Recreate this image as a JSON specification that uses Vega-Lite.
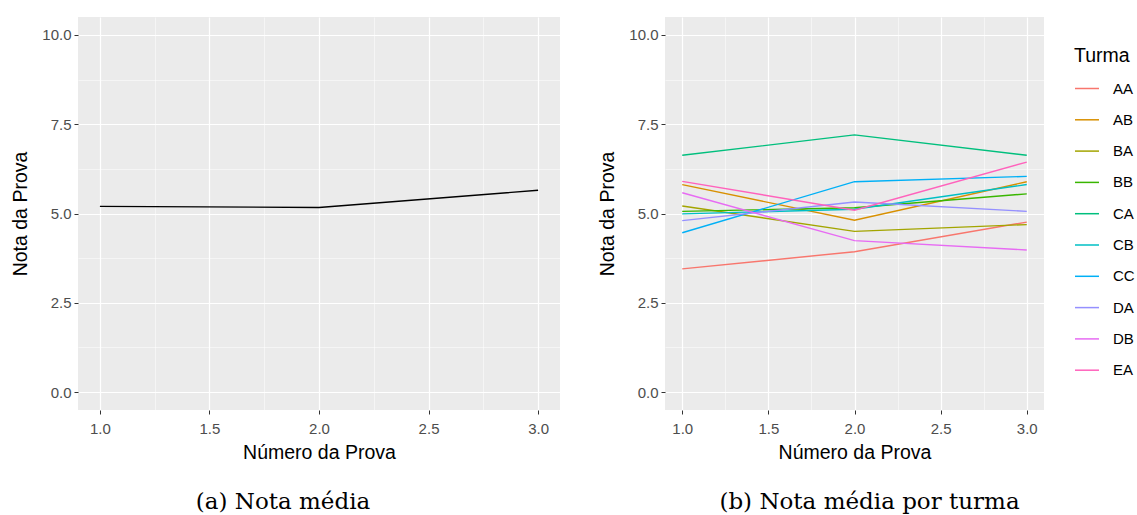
{
  "$schema": "https://vega.github.io/schema/vega-lite/v6.json",
  "background": "white",
  "padding": {"left": 10, "top": 17, "right": 0, "bottom": 0},
  "spacing": 37,
  "config": {
    "view": {"fill": "#EBEBEB", "stroke": null},
    "font": "Liberation Sans",
    "axis": {
      "domain": false,
      "gridColor": "white",
      "tickColor": "#333333",
      "tickSize": 4,
      "labelColor": "#4D4D4D",
      "labelFontSize": 15,
      "labelPadding": 3,
      "titleFontSize": 19.5,
      "titleFontWeight": "normal",
      "titleColor": "black"
    },
    "axisX": {"labelPadding": 7, "titlePadding": 7},
    "axisY": {"labelPadding": 3, "titlePadding": 11},
    "title": {"font": "DejaVu Serif", "fontSize": 23, "fontWeight": "normal", "color": "black"}
  },
  "datasets": {
    "media": [
      {"prova": 1, "nota": 5.20},
      {"prova": 2, "nota": 5.17},
      {"prova": 3, "nota": 5.65}
    ],
    "turmas": [
      {"prova": 1, "turma": "AA", "nota": 3.45},
      {"prova": 2, "turma": "AA", "nota": 3.93},
      {"prova": 3, "turma": "AA", "nota": 4.76},
      {"prova": 1, "turma": "AB", "nota": 5.81},
      {"prova": 2, "turma": "AB", "nota": 4.81},
      {"prova": 3, "turma": "AB", "nota": 5.89},
      {"prova": 1, "turma": "BA", "nota": 5.21},
      {"prova": 2, "turma": "BA", "nota": 4.50},
      {"prova": 3, "turma": "BA", "nota": 4.69},
      {"prova": 1, "turma": "BB", "nota": 5.06},
      {"prova": 2, "turma": "BB", "nota": 5.16},
      {"prova": 3, "turma": "BB", "nota": 5.55},
      {"prova": 1, "turma": "CA", "nota": 6.63},
      {"prova": 2, "turma": "CA", "nota": 7.20},
      {"prova": 3, "turma": "CA", "nota": 6.63},
      {"prova": 1, "turma": "CB", "nota": 4.99},
      {"prova": 2, "turma": "CB", "nota": 5.12},
      {"prova": 3, "turma": "CB", "nota": 5.81},
      {"prova": 1, "turma": "CC", "nota": 4.46},
      {"prova": 2, "turma": "CC", "nota": 5.89},
      {"prova": 3, "turma": "CC", "nota": 6.04},
      {"prova": 1, "turma": "DA", "nota": 4.80},
      {"prova": 2, "turma": "DA", "nota": 5.32},
      {"prova": 3, "turma": "DA", "nota": 5.06},
      {"prova": 1, "turma": "DB", "nota": 5.58},
      {"prova": 2, "turma": "DB", "nota": 4.24},
      {"prova": 3, "turma": "DB", "nota": 3.98},
      {"prova": 1, "turma": "EA", "nota": 5.90},
      {"prova": 2, "turma": "EA", "nota": 5.09},
      {"prova": 3, "turma": "EA", "nota": 6.44}
    ]
  },
  "hconcat": [
    {
      "width": 482,
      "height": 393,
      "title": {"text": "(a) Nota média", "orient": "bottom", "anchor": "middle", "dx": -36, "offset": 29},
      "data": {"name": "media"},
      "mark": {"type": "line", "color": "black", "strokeWidth": 1.4},
      "encoding": {
        "x": {
          "field": "prova", "type": "quantitative",
          "scale": {"domain": [0.9, 3.1], "nice": false, "zero": false},
          "axis": {
            "title": "Número da Prova",
            "values": [1, 1.25, 1.5, 1.75, 2, 2.25, 2.5, 2.75, 3],
            "labelExpr": "datum.value % 0.5 === 0 ? format(datum.value, '.1f') : ''",
            "gridWidth": {"condition": {"test": "datum.value % 0.5 === 0", "value": 1.2}, "value": 0.5},
            "tickOpacity": {"condition": {"test": "datum.value % 0.5 === 0", "value": 1}, "value": 0}
          }
        },
        "y": {
          "field": "nota", "type": "quantitative",
          "scale": {"domain": [-0.5, 10.5], "nice": false, "zero": false},
          "axis": {
            "title": "Nota da Prova",
            "values": [0, 1.25, 2.5, 3.75, 5, 6.25, 7.5, 8.75, 10],
            "labelExpr": "datum.value % 2.5 === 0 ? format(datum.value, '.1f') : ''",
            "gridWidth": {"condition": {"test": "datum.value % 2.5 === 0", "value": 1.2}, "value": 0.5},
            "tickOpacity": {"condition": {"test": "datum.value % 2.5 === 0", "value": 1}, "value": 0}
          }
        }
      }
    },
    {
      "width": 379,
      "height": 393,
      "title": {"text": "(b) Nota média por turma", "orient": "bottom", "anchor": "middle", "dx": 15, "offset": 29},
      "data": {"name": "turmas"},
      "mark": {"type": "line", "strokeWidth": 1.4},
      "encoding": {
        "x": {
          "field": "prova", "type": "quantitative",
          "scale": {"domain": [0.9, 3.1], "nice": false, "zero": false},
          "axis": {
            "title": "Número da Prova",
            "values": [1, 1.25, 1.5, 1.75, 2, 2.25, 2.5, 2.75, 3],
            "labelExpr": "datum.value % 0.5 === 0 ? format(datum.value, '.1f') : ''",
            "gridWidth": {"condition": {"test": "datum.value % 0.5 === 0", "value": 1.2}, "value": 0.5},
            "tickOpacity": {"condition": {"test": "datum.value % 0.5 === 0", "value": 1}, "value": 0}
          }
        },
        "y": {
          "field": "nota", "type": "quantitative",
          "scale": {"domain": [-0.5, 10.5], "nice": false, "zero": false},
          "axis": {
            "title": "Nota da Prova",
            "values": [0, 1.25, 2.5, 3.75, 5, 6.25, 7.5, 8.75, 10],
            "labelExpr": "datum.value % 2.5 === 0 ? format(datum.value, '.1f') : ''",
            "gridWidth": {"condition": {"test": "datum.value % 2.5 === 0", "value": 1.2}, "value": 0.5},
            "tickOpacity": {"condition": {"test": "datum.value % 2.5 === 0", "value": 1}, "value": 0}
          }
        },
        "color": {
          "field": "turma", "type": "nominal",
          "scale": {
            "domain": ["AA", "AB", "BA", "BB", "CA", "CB", "CC", "DA", "DB", "EA"],
            "range": ["#F8766D", "#D89000", "#A3A500", "#39B600", "#00BF7D", "#00BFC4", "#00B0F6", "#9590FF", "#E76BF3", "#FF62BC"]
          },
          "legend": {
            "title": "Turma",
            "orient": "none",
            "legendX": 996,
            "legendY": 30,
            "symbolType": "stroke",
            "symbolStrokeWidth": 1.5,
            "symbolSize": 576,
            "labelFontSize": 15,
            "labelColor": "black",
            "labelOffset": 13,
            "titleFontSize": 19.5,
            "titleFontWeight": "normal",
            "titleColor": "black",
            "titlePadding": 9,
            "rowPadding": 10.3
          }
        }
      }
    }
  ]
}
